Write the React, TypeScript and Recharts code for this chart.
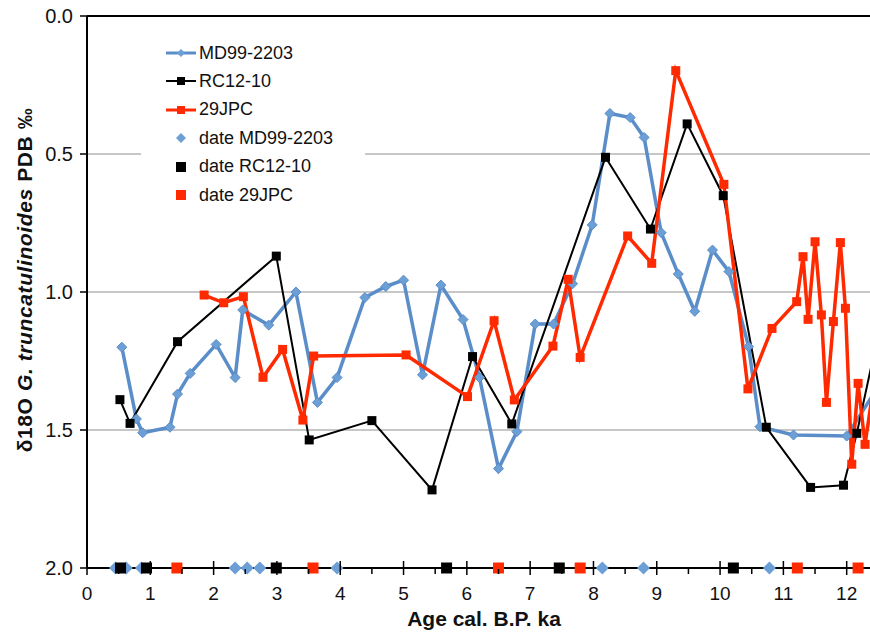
import { CartesianGrid, ComposedChart, Line, ReferenceLine, Scatter, XAxis, YAxis } from 'recharts';

// MD99-2203
const md99Age = [0.55, 0.78, 0.88, 1.31, 1.43, 1.63, 2.04, 2.34, 2.46, 2.87, 3.3, 3.64, 3.95, 4.39, 4.72, 5.0, 5.3, 5.59, 5.94, 6.2, 6.5, 6.79, 7.08, 7.37, 7.67, 7.98, 8.26, 8.58, 8.8, 9.07, 9.34, 9.6, 9.88, 10.14, 10.45, 10.63, 11.16, 12.0, 12.45];
const md99D18O = [1.2, 1.46, 1.51, 1.49, 1.37, 1.295, 1.19, 1.31, 1.065, 1.12, 1.0, 1.4, 1.31, 1.02, 0.98, 0.957, 1.3, 0.975, 1.1, 1.31, 1.64, 1.506, 1.116, 1.116, 0.97, 0.757, 0.353, 0.368, 0.44, 0.785, 0.935, 1.07, 0.848, 0.926, 1.198, 1.488, 1.518, 1.522, 1.36];

// RC12-10
const rc12Age = [0.52, 0.68, 1.43, 2.99, 3.51, 4.5, 5.45, 6.09, 6.71, 8.19, 8.9, 9.48, 10.05, 10.73, 11.43, 11.95, 12.16, 12.5];
const rc12D18O = [1.39, 1.476, 1.18, 0.87, 1.536, 1.466, 1.717, 1.234, 1.478, 0.512, 0.772, 0.391, 0.651, 1.49, 1.708, 1.7, 1.512, 1.15];

// 29JPC
const jpcAge = [1.85, 2.16, 2.47, 2.78, 3.09, 3.41, 3.58, 5.04, 6.01, 6.43, 6.75, 7.36, 7.6, 7.79, 8.54, 8.92, 9.3, 10.06, 10.44, 10.82, 11.21, 11.31, 11.39, 11.5, 11.6, 11.68, 11.79, 11.9, 11.98, 12.08, 12.18, 12.29, 12.45];
const jpcD18O = [1.011, 1.039, 1.017, 1.309, 1.208, 1.464, 1.232, 1.228, 1.379, 1.104, 1.391, 1.196, 0.954, 1.237, 0.797, 0.896, 0.198, 0.61, 1.351, 1.132, 1.035, 0.872, 1.099, 0.818, 1.083, 1.4, 1.107, 0.821, 1.059, 1.624, 1.331, 1.552, 1.3];

// radiocarbon dates, drawn on the 2.0 axis
const dateMd99 = [0.45, 0.62, 0.86, 2.34, 2.53, 2.73, 3.95, 8.14, 8.79, 10.78];
const dateRc12 = [0.53, 0.94, 2.99, 5.68, 7.46, 10.21];
const dateJpc = [1.42, 3.57, 6.5, 7.79, 11.22, 12.18];
const DATE_LEVEL = 2.0;

const yTicks = [0, 0.5, 1, 1.5, 2];
const xTicks = [0, 0.5, 1, 1.5, 2, 2.5, 3, 3.5, 4, 4.5, 5, 5.5, 6, 6.5, 7, 7.5, 8, 8.5, 9, 9.5, 10, 10.5, 11, 11.5, 12, 12.5];

const BLUE = '#5b8ec9';
const BLUE_MARK = '#6c9fd6';
const RED = '#ff2a00';
const FONT = '"Liberation Sans", Arial, sans-serif';

const toPoints = (ages: number[], vals: number[]) => ages.map((x, i) => ({ x, y: vals[i] }));
const toDates = (ages: number[]) => ages.map((x) => ({ x, y: DATE_LEVEL }));

const md99 = toPoints(md99Age, md99D18O);
const rc12 = toPoints(rc12Age, rc12D18O);
const jpc = toPoints(jpcAge, jpcD18O);

const diamond = (cx: number, cy: number, r: number) => `M${cx},${cy - r}L${cx + r},${cy}L${cx},${cy + r}L${cx - r},${cy}Z`;

const blueDot = (p: any) => <path key={p.key ?? `b${p.index}`} d={diamond(p.cx, p.cy, 5)} fill={BLUE_MARK} stroke={BLUE} strokeWidth={1} />;
const squareDot = (color: string, s: number) => (p: any) =>
  <rect key={p.key ?? `s${p.index}`} x={p.cx - s / 2} y={p.cy - s / 2} width={s} height={s} fill={color} />;

const blueDate = (p: any) => <path d={diamond(p.cx, p.cy, 6.5)} fill={BLUE_MARK} />;
const squareDate = (color: string) => (p: any) => <rect x={p.cx - 5.5} y={p.cy - 5.5} width={11} height={11} fill={color} />;

const AgeTick = (props: any) => {
  const { x, y, payload } = props;
  const v = payload.value;
  const major = Number.isInteger(v);
  return (
    <g>
      <line x1={x} x2={x} y1={major ? y - 7 : y + 1} y2={major ? y + 7 : y + 6} stroke="#000" strokeWidth={1.5} />
      {major && (
        <text x={x} y={y + 32} textAnchor="middle" fontSize={19} fontFamily={FONT} fill="#111">
          {v}
        </text>
      )}
    </g>
  );
};

const YLabel = () => (
  <text x={32} y={280} transform="rotate(-90 32 280)" textAnchor="middle" fontSize={21} letterSpacing={0.6} fontWeight="bold" fontFamily={FONT} fill="#111">
    δ18O <tspan fontStyle="italic">G. truncatulinoides</tspan> PDB ‰
  </text>
);

const XLabel = () => (
  <text x={484} y={626} textAnchor="middle" fontSize={21} fontWeight="bold" fontFamily={FONT} fill="#111">
    Age cal. B.P. ka
  </text>
);

const legendRows = [
  { label: 'MD99-2203', kind: 'line', color: BLUE },
  { label: 'RC12-10', kind: 'line', color: '#000' },
  { label: '29JPC', kind: 'line', color: RED },
  { label: 'date MD99-2203', kind: 'diamond', color: BLUE_MARK },
  { label: 'date RC12-10', kind: 'square', color: '#000' },
  { label: 'date 29JPC', kind: 'square', color: RED },
];

const LegendSample = ({ kind, color }: { kind: string; color: string }) => (
  <svg width={32} height={16} style={{ display: 'block' }}>
    {kind === 'line' && <line x1={1} x2={31} y1={8} y2={8} stroke={color} strokeWidth={color === '#000' ? 2 : 3} />}
    {kind === 'line' && color === BLUE && <path d={diamond(16, 8, 4)} fill={BLUE_MARK} />}
    {kind === 'line' && color !== BLUE && <rect x={12} y={4} width={8} height={8} fill={color} />}
    {kind === 'diamond' && <path d={diamond(16, 8, 5)} fill={color} />}
    {kind === 'square' && <rect x={11} y={3} width={10} height={10} fill={color} />}
  </svg>
);

const App = () => (
  <div style={{ position: 'absolute', left: 0, top: 0, width: 870, height: 632, overflow: 'hidden', background: '#fff' }}>
    <ComposedChart width={910} height={632} margin={{ top: 16, right: 0, bottom: 0, left: 0 }}>
      <CartesianGrid vertical={false} stroke="#b5b5b5" strokeWidth={1.5} />
      <XAxis
        dataKey="x"
        type="number"
        domain={[0, 13]}
        ticks={xTicks}
        interval={0}
        height={64}
        tickSize={0}
        tickMargin={0}
        tickLine={false}
        tick={<AgeTick />}
        axisLine={{ stroke: '#000', strokeWidth: 2 }}
        label={<XLabel />}
      />
      <YAxis
        dataKey="y"
        type="number"
        reversed
        domain={[0, 2]}
        ticks={yTicks}
        width={87}
        tickSize={7}
        tickMargin={7}
        tickFormatter={(v: number) => v.toFixed(1)}
        tick={{ fontSize: 20, fontFamily: FONT, fill: '#111' }}
        tickLine={{ stroke: '#000', strokeWidth: 1.5 }}
        axisLine={{ stroke: '#000', strokeWidth: 2 }}
        label={<YLabel />}
      />
      <ReferenceLine y={0} stroke="#000" strokeWidth={2} />
      <Line data={md99} dataKey="y" name="MD99-2203" stroke={BLUE} strokeWidth={3.5} dot={blueDot} activeDot={false} isAnimationActive={false} />
      <Line data={rc12} dataKey="y" name="RC12-10" stroke="#000" strokeWidth={2} dot={squareDot('#000', 9)} activeDot={false} isAnimationActive={false} />
      <Line data={jpc} dataKey="y" name="29JPC" stroke={RED} strokeWidth={3.5} dot={squareDot(RED, 9)} activeDot={false} isAnimationActive={false} />
      <Scatter data={toDates(dateMd99)} dataKey="y" name="date MD99-2203" shape={blueDate} isAnimationActive={false} />
      <Scatter data={toDates(dateRc12)} dataKey="y" name="date RC12-10" shape={squareDate('#000')} isAnimationActive={false} />
      <Scatter data={toDates(dateJpc)} dataKey="y" name="date 29JPC" shape={squareDate(RED)} isAnimationActive={false} />
    </ComposedChart>
    <div style={{ position: 'absolute', left: 141, top: 36, width: 224, height: 176, background: '#fff', fontFamily: FONT, fontSize: 18, color: '#111' }}>
      {legendRows.map((r, i) => (
        <div key={r.label} style={{ position: 'absolute', left: 24, top: 8 + i * 28.4, height: 18, display: 'flex', alignItems: 'center' }}>
          <LegendSample kind={r.kind} color={r.color} />
          <span style={{ marginLeft: 2, whiteSpace: 'nowrap' }}>{r.label}</span>
        </div>
      ))}
    </div>
  </div>
);

export default App;
